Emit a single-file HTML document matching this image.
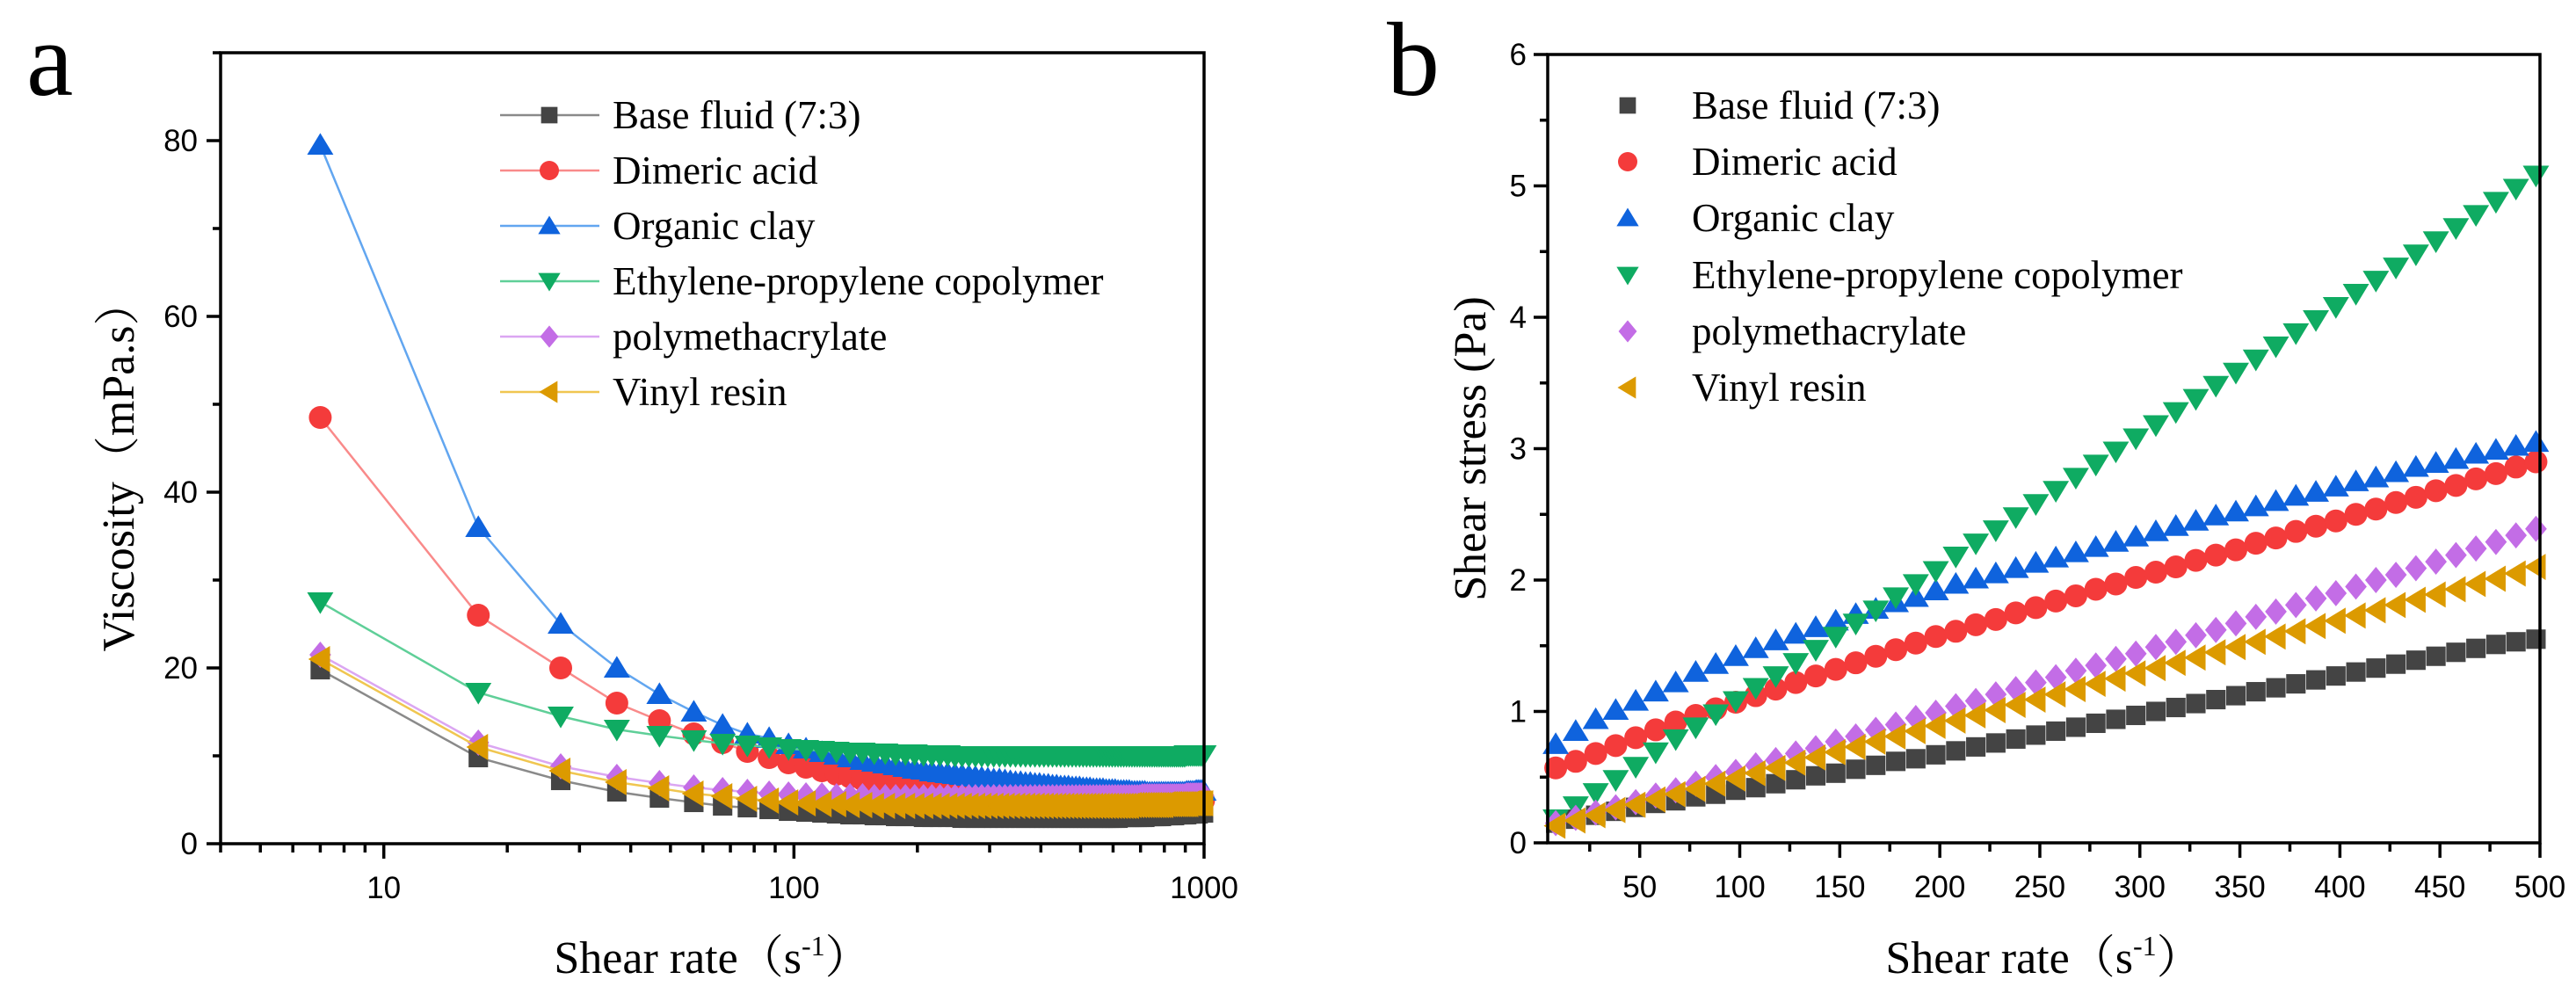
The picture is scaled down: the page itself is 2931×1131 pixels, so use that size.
<!DOCTYPE html>
<html><head><meta charset="utf-8"><style>
html,body{margin:0;padding:0;background:#fff;}
svg{display:block;}
</style></head><body>
<svg id="fig" width="2931" height="1131" viewBox="0 0 2931 1131" xmlns="http://www.w3.org/2000/svg"></svg>
<script>
// ---- data: panel a (viscosity vs shear rate, log x) ----
const xsA = [7,17,27,37,47,57,67,77,87,97,107,117,127,137,147,157,167,177,187,197,207,217,227,237,247,257,267,277,287,297,307,317,327,337,347,357,367,377,387,397,407,417,427,437,447,457,467,477,487,497,507,517,527,537,547,557,567,577,587,597,607,617,627,637,647,657,667,677,687,697,707,717,727,737,747,757,767,777,787,797,807,817,827,837,847,857,867,877,887,897,907,917,927,937,947,957,967,977,987,997];
const baseA = [19.8,9.8,7.2,5.9,5.2,4.7,4.3,4.1,3.9,3.7,3.6,3.5,3.4,3.3,3.3,3.2,3.2,3.1,3.1,3.1,3.0,3.0,3.0,3.0,3.0,2.9,2.9,2.9,2.9,2.9,2.9,2.9,2.9,2.9,2.9,2.9,2.9,2.9,2.9,2.9,2.9,2.9,2.9,2.9,2.9,2.9,2.9,2.9,2.9,2.9,2.9,2.9,2.9,2.9,2.9,2.9,2.9,2.9,2.9,2.9,2.9,2.9,3.0,3.0,3.0,3.0,3.0,3.0,3.0,3.0,3.0,3.0,3.1,3.1,3.1,3.1,3.1,3.1,3.1,3.2,3.2,3.2,3.2,3.2,3.2,3.3,3.3,3.3,3.3,3.3,3.3,3.4,3.4,3.4,3.4,3.4,3.4,3.5,3.5,3.5];
const acidA = [48.5,26,20,16,14,12.5,11.5,10.5,9.8,9.2,8.7,8.3,7.9,7.6,7.3,7.0,6.8,6.6,6.4,6.2,6.1,6.0,5.8,5.7,5.6,5.5,5.4,5.3,5.2,5.2,5.1,5.1,5.0,5.0,4.9,4.9,4.9,4.8,4.8,4.8,4.8,4.7,4.7,4.7,4.7,4.7,4.7,4.7,4.7,4.7,4.7,4.7,4.7,4.7,4.7,4.7,4.7,4.7,4.7,4.7,4.7,4.7,4.7,4.7,4.7,4.7,4.7,4.7,4.7,4.7,4.7,4.7,4.7,4.7,4.7,4.7,4.7,4.7,4.7,4.7,4.8,4.8,4.8,4.8,4.8,4.8,4.8,4.8,4.8,4.8,4.8,4.8,4.8,4.8,4.8,4.9,4.9,4.9,4.9,4.9];
const clayA = [79.5,36,25,20,17,15,13.5,12.5,12,11.3,10.8,10.4,10.1,9.8,9.5,9.3,9.1,8.9,8.7,8.5,8.4,8.2,8.1,8.0,7.9,7.8,7.7,7.6,7.5,7.4,7.3,7.3,7.2,7.1,7.0,7.0,6.9,6.9,6.8,6.8,6.7,6.7,6.6,6.6,6.5,6.5,6.5,6.4,6.4,6.4,6.3,6.3,6.3,6.2,6.2,6.2,6.2,6.1,6.1,6.1,6.1,6.0,6.0,6.0,6.0,6.0,5.9,5.9,5.9,5.9,5.9,5.9,5.8,5.8,5.8,5.8,5.8,5.8,5.8,5.8,5.8,5.8,5.8,5.8,5.8,5.8,5.8,5.8,5.8,5.8,5.9,5.9,5.9,5.9,5.9,6.0,6.0,6.0,6.0,6.0];
const epcA = [27.5,17.2,14.5,13,12.3,11.8,11.4,11.2,11,10.8,10.7,10.6,10.5,10.4,10.4,10.3,10.3,10.2,10.2,10.2,10.1,10.1,10.1,10.1,10.0,10.0,10.0,10.0,10.0,10.0,10.0,10.0,10.0,10.0,10.0,10.0,10.0,10.0,10.0,10.0,10.0,10.0,10.0,10.0,10.0,10.0,10.0,10.0,10.0,10.0,10.0,10.0,10.0,10.0,10.0,10.0,10.0,10.0,10.0,10.0,10.0,10.0,10.0,10.0,10.0,10.0,10.0,10.0,10.0,10.0,10.0,10.0,10.0,10.0,10.0,10.0,10.0,10.0,10.0,10.0,10.0,10.0,10.0,10.0,10.0,10.0,10.0,10.0,10.0,10.0,10.1,10.1,10.1,10.1,10.1,10.1,10.1,10.1,10.1,10.1];
const pmaA = [21.5,11.5,8.8,7.6,6.9,6.4,6.1,5.9,5.7,5.6,5.5,5.5,5.4,5.4,5.4,5.3,5.3,5.3,5.3,5.3,5.3,5.3,5.3,5.3,5.3,5.3,5.3,5.3,5.3,5.3,5.3,5.3,5.3,5.3,5.3,5.3,5.3,5.3,5.3,5.3,5.3,5.3,5.3,5.3,5.3,5.3,5.3,5.3,5.3,5.3,5.3,5.3,5.3,5.3,5.3,5.3,5.3,5.3,5.3,5.3,5.3,5.3,5.3,5.3,5.3,5.3,5.3,5.3,5.3,5.3,5.4,5.4,5.4,5.4,5.4,5.4,5.4,5.4,5.4,5.4,5.4,5.4,5.4,5.4,5.4,5.4,5.4,5.4,5.4,5.4,5.5,5.5,5.5,5.5,5.5,5.5,5.5,5.5,5.5,5.5];
const vinylA = [21,11,8.3,7,6.3,5.7,5.4,5.1,4.9,4.7,4.6,4.5,4.5,4.4,4.4,4.3,4.3,4.3,4.3,4.3,4.3,4.3,4.3,4.3,4.3,4.3,4.3,4.3,4.3,4.3,4.3,4.3,4.3,4.3,4.3,4.3,4.3,4.3,4.3,4.3,4.3,4.3,4.3,4.3,4.3,4.3,4.3,4.3,4.3,4.3,4.3,4.3,4.3,4.3,4.3,4.3,4.3,4.3,4.3,4.3,4.3,4.3,4.3,4.3,4.3,4.3,4.4,4.4,4.4,4.4,4.4,4.4,4.4,4.4,4.4,4.4,4.4,4.4,4.4,4.4,4.5,4.5,4.5,4.5,4.5,4.5,4.5,4.5,4.5,4.5,4.5,4.5,4.6,4.6,4.6,4.6,4.6,4.6,4.6,4.6];
const yTicksA = [0,20,40,60,80];
const xTicksA = [10,100,1000];

// ---- data: panel b (shear stress vs shear rate) ----
const xsB = [8,18,28,38,48,58,68,78,88,98,108,118,128,138,148,158,168,178,188,198,208,218,228,238,248,258,268,278,288,298,308,318,328,338,348,358,368,378,388,398,408,418,428,438,448,458,468,478,488,498];
const baseB = [0.15,0.18,0.21,0.24,0.27,0.30,0.32,0.35,0.37,0.40,0.42,0.45,0.48,0.51,0.53,0.56,0.59,0.62,0.64,0.67,0.70,0.73,0.76,0.79,0.82,0.85,0.88,0.91,0.94,0.97,1.00,1.03,1.06,1.09,1.12,1.15,1.18,1.21,1.24,1.27,1.30,1.33,1.36,1.39,1.42,1.45,1.48,1.51,1.53,1.55];
const acidB = [0.57,0.62,0.68,0.74,0.80,0.86,0.92,0.97,1.02,1.07,1.12,1.17,1.22,1.27,1.32,1.37,1.42,1.47,1.52,1.57,1.61,1.66,1.70,1.75,1.79,1.84,1.88,1.93,1.97,2.02,2.06,2.10,2.15,2.19,2.23,2.28,2.32,2.37,2.41,2.45,2.50,2.54,2.59,2.63,2.68,2.72,2.77,2.81,2.86,2.90];
const clayB = [0.75,0.85,0.94,1.01,1.08,1.15,1.22,1.30,1.36,1.42,1.48,1.54,1.59,1.64,1.69,1.74,1.78,1.83,1.87,1.92,1.97,2.01,2.05,2.09,2.13,2.17,2.21,2.25,2.29,2.33,2.37,2.41,2.45,2.49,2.52,2.56,2.60,2.64,2.67,2.71,2.75,2.78,2.82,2.86,2.89,2.92,2.96,2.99,3.02,3.05];
const epcB = [0.18,0.28,0.38,0.48,0.58,0.69,0.79,0.88,0.98,1.08,1.18,1.27,1.37,1.47,1.57,1.67,1.77,1.87,1.97,2.07,2.18,2.28,2.38,2.48,2.58,2.68,2.78,2.88,2.98,3.08,3.18,3.28,3.38,3.48,3.58,3.68,3.78,3.88,3.98,4.08,4.18,4.28,4.38,4.48,4.58,4.68,4.78,4.88,4.98,5.08];
const pmaB = [0.15,0.19,0.23,0.27,0.31,0.36,0.40,0.45,0.50,0.54,0.59,0.63,0.68,0.72,0.77,0.81,0.86,0.90,0.95,0.99,1.04,1.08,1.13,1.17,1.22,1.26,1.31,1.35,1.40,1.44,1.49,1.53,1.58,1.62,1.67,1.72,1.76,1.81,1.86,1.90,1.95,2.00,2.04,2.09,2.14,2.19,2.24,2.29,2.34,2.39];
const vinylB = [0.13,0.17,0.21,0.25,0.29,0.33,0.37,0.41,0.45,0.49,0.53,0.57,0.61,0.65,0.69,0.73,0.77,0.81,0.85,0.89,0.93,0.97,1.01,1.05,1.09,1.13,1.17,1.21,1.25,1.29,1.33,1.37,1.41,1.45,1.49,1.53,1.57,1.61,1.65,1.69,1.73,1.77,1.81,1.85,1.89,1.93,1.97,2.01,2.05,2.10];
const yTicksB = [0,1,2,3,4,5,6];
const xTicksB = [50,100,150,200,250,300,350,400,450,500];

const seriesNames = ["Base fluid (7:3)","Dimeric acid","Organic clay","Ethylene-propylene copolymer","polymethacrylate","Vinyl resin"];
const keys = ["base-fluid","dimeric-acid","organic-clay","ethylene-propylene-copolymer","polymethacrylate","vinyl-resin"];
const colors = ["#444444","#f43b3b","#0f63dd","#0fab62","#c36de6","#dc9a00"];
const lineColors = ["#8a8a8a","#f98a8a","#62a6f0","#5fcf98","#dba6f2","#f0c650"];
const shapes = ["square","circle","up","down","diamond","left"];

const NS = "http://www.w3.org/2000/svg";
const svg = document.getElementById("fig");
function mk(tag, attrs, parent){ const e=document.createElementNS(NS,tag); for(const k in attrs) e.setAttribute(k,attrs[k]); (parent||svg).appendChild(e); return e; }
function txt(s, attrs, parent){ const e=mk("text",attrs,parent); e.textContent=s; return e; }

function marker(shape, cx, cy, r, fill, parent){
  let e;
  if(shape==="square") e=mk("rect",{x:cx-r*0.85,y:cy-r*0.85,width:r*1.7,height:r*1.7,fill:fill},parent);
  else if(shape==="circle") e=mk("circle",{cx:cx,cy:cy,r:r,fill:fill},parent);
  else if(shape==="up") e=mk("polygon",{points:`${cx},${cy-r*1.05} ${cx+r*1.15},${cy+r*0.85} ${cx-r*1.15},${cy+r*0.85}`,fill:fill},parent);
  else if(shape==="down") e=mk("polygon",{points:`${cx},${cy+r*1.05} ${cx+r*1.15},${cy-r*0.85} ${cx-r*1.15},${cy-r*0.85}`,fill:fill},parent);
  else if(shape==="diamond") e=mk("polygon",{points:`${cx},${cy-r*1.15} ${cx+r*0.95},${cy} ${cx},${cy+r*1.15} ${cx-r*0.95},${cy}`,fill:fill},parent);
  else e=mk("polygon",{points:`${cx-r*1.05},${cy} ${cx+r*0.85},${cy-r*1.15} ${cx+r*0.85},${cy+r*1.15}`,fill:fill},parent);
  return e;
}

// ================= Panel a =================
const A = {L:251,R:1370,T:60,B:960,xmin:4,xmax:1000,ymin:0,ymax:90};
function axA(x){ return A.L+(Math.log10(x)-Math.log10(A.xmin))/(Math.log10(A.xmax)-Math.log10(A.xmin))*(A.R-A.L); }
function ayA(y){ return A.B-(y-A.ymin)/(A.ymax-A.ymin)*(A.B-A.T); }

const gA = mk("g",{});



const dataA=[baseA,acidA,clayA,epcA,pmaA,vinylA];
dataA.forEach((arr,i)=>{
  const g=mk("g",{},gA);
  
  
  const pts=arr.map((v,j)=>axA(xsA[j]).toFixed(1)+","+ayA(v).toFixed(1)).join(" ");
  const pl=mk("polyline",{points:pts,fill:"none",stroke:lineColors[i],"stroke-width":2.5},g);
  
  
  arr.forEach((v,j)=>{
    const m=marker(shapes[i],axA(xsA[j]),ayA(v),13,colors[i],g);
    
    
  });
});

const frameA=mk("rect",{x:A.L,y:A.T,width:A.R-A.L,height:A.B-A.T,fill:"none",stroke:"#000","stroke-width":3.5},gA);


for(let v=0; v<=90; v+=10){
  const major = yTicksA.includes(v);
  const t=mk("line",{x1:A.L-(major?16:9),x2:A.L,y1:ayA(v),y2:ayA(v),stroke:"#000","stroke-width":3.5},gA);
  
  
}
yTicksA.forEach(v=>{
  const l=txt(String(v),{x:A.L-26,y:ayA(v)+12,"text-anchor":"end","font-family":"Liberation Sans, sans-serif","font-size":35,fill:"#000"},gA);
  
  
});
for(let d=1; d<=1000; d*=10){
  for(let k=1;k<10;k++){
    const x=d*k; if(x<A.xmin||x>A.xmax) continue;
    const major=(k===1);
    const t=mk("line",{x1:axA(x),x2:axA(x),y1:A.B,y2:A.B+(major?17:10),stroke:"#000","stroke-width":3.5},gA);
    
    
  }
}
xTicksA.forEach(v=>{
  const l=txt(String(v),{x:axA(v),y:A.B+62,"text-anchor":"middle","font-family":"Liberation Sans, sans-serif","font-size":35,fill:"#000"},gA);
  
  
});
const xtA=txt("",{x:(A.L+A.R)/2,y:1107,"text-anchor":"middle","font-family":"Liberation Serif, Noto Serif CJK SC, serif","font-size":52,fill:"#000"},gA);
xtA.innerHTML='Shear rate（s<tspan dy="-20" font-size="32">-1</tspan><tspan dy="20">）</tspan>';


const ytA=txt("Viscosity（mPa.s）",{x:0,y:0,"text-anchor":"middle","font-family":"Liberation Serif, Noto Serif CJK SC, serif","font-size":52,fill:"#000",transform:`translate(152,${(A.T+A.B)/2+20}) rotate(-90)`},gA);


const labA=txt("a",{x:30,y:108,"font-family":"Liberation Serif, serif","font-size":120,fill:"#000"},gA);


const legA=mk("g",{},gA);


const legRowsA=[131,194,257,320,383,446];
seriesNames.forEach((n,i)=>{
  const g=mk("g",{},legA);
  
  
  mk("line",{x1:569,x2:682,y1:legRowsA[i],y2:legRowsA[i],stroke:lineColors[i],"stroke-width":2.5},g);
  marker(shapes[i],625,legRowsA[i],11,colors[i],g);
  txt(n,{x:697,y:legRowsA[i]+15,"font-family":"Liberation Serif, serif","font-size":45,fill:"#000"},g);
});

// ================= Panel b =================
const B = {L:1761,R:2890,T:62,B:959,xmin:4,xmax:500,ymin:0,ymax:6};
function axB(x){ return B.L+(x-B.xmin)/(B.xmax-B.xmin)*(B.R-B.L); }
function ayB(y){ return B.B-(y-B.ymin)/(B.ymax-B.ymin)*(B.B-B.T); }

const gB = mk("g",{});



const dataB=[baseB,acidB,clayB,epcB,pmaB,vinylB];
dataB.forEach((arr,i)=>{
  const g=mk("g",{},gB);
  
  
  arr.forEach((v,j)=>{
    const m=marker(shapes[i],axB(xsB[j]),ayB(v),13,colors[i],g);
    
    
  });
});
const frameB=mk("rect",{x:B.L,y:B.T,width:B.R-B.L,height:B.B-B.T,fill:"none",stroke:"#000","stroke-width":3.5},gB);


for(let v=0; v<=6.001; v+=0.5){
  const major=Math.abs(v-Math.round(v))<1e-6;
  const t=mk("line",{x1:B.L-(major?16:9),x2:B.L,y1:ayB(v),y2:ayB(v),stroke:"#000","stroke-width":3.5},gB);
  
  
}
yTicksB.forEach(v=>{
  const l=txt(String(v),{x:B.L-24,y:ayB(v)+12,"text-anchor":"end","font-family":"Liberation Sans, sans-serif","font-size":35,fill:"#000"},gB);
  
  
});
for(let v=25; v<=500; v+=25){
  const major=(v%50===0);
  const t=mk("line",{x1:axB(v),x2:axB(v),y1:B.B,y2:B.B+(major?17:10),stroke:"#000","stroke-width":3.5},gB);
  
  
}
xTicksB.forEach(v=>{
  const l=txt(String(v),{x:axB(v),y:B.B+62,"text-anchor":"middle","font-family":"Liberation Sans, sans-serif","font-size":35,fill:"#000"},gB);
  
  
});
const xtB=txt("",{x:(B.L+B.R)/2,y:1107,"text-anchor":"middle","font-family":"Liberation Serif, Noto Serif CJK SC, serif","font-size":52,fill:"#000"},gB);
xtB.innerHTML='Shear rate（s<tspan dy="-20" font-size="32">-1</tspan><tspan dy="20">）</tspan>';


const ytB=txt("Shear stress (Pa)",{x:0,y:0,"text-anchor":"middle","font-family":"Liberation Serif, serif","font-size":52,fill:"#000",transform:`translate(1690,${(B.T+B.B)/2}) rotate(-90)`},gB);


const labB=txt("b",{x:1578,y:108,"font-family":"Liberation Serif, serif","font-size":120,fill:"#000"},gB);


const legB=mk("g",{},gB);


const legRowsB=[120,184,248,313,377,441];
seriesNames.forEach((n,i)=>{
  const g=mk("g",{},legB);
  
  
  marker(shapes[i],1852,legRowsB[i],11,colors[i],g);
  txt(n,{x:1925,y:legRowsB[i]+15,"font-family":"Liberation Serif, serif","font-size":45,fill:"#000"},g);
});
</script>
</body></html>
